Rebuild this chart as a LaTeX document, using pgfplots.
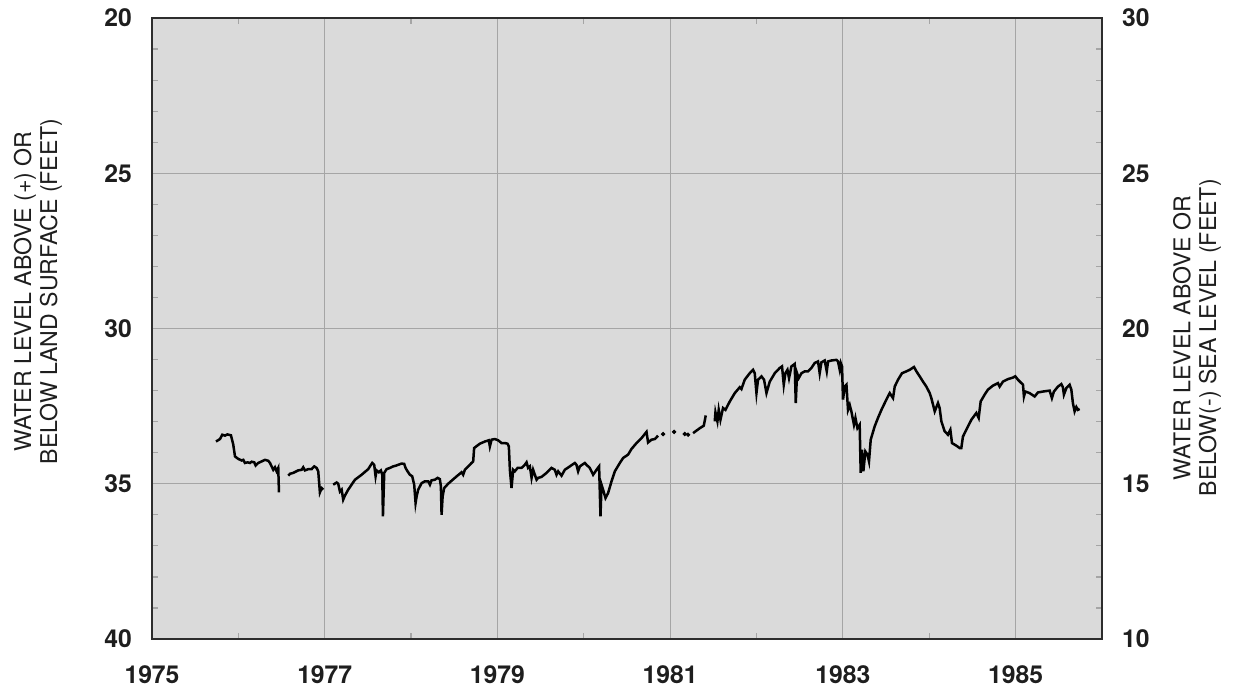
\documentclass[border=0pt]{standalone}
\usepackage{pgfplots}
\pgfplotsset{compat=1.18}
\usepackage{fontspec}
\setmainfont{TeX Gyre Heros}
\definecolor{bg}{RGB}{218,218,218}
\definecolor{gridc}{RGB}{165,165,165}
\definecolor{axc}{RGB}{45,45,45}
\definecolor{txt}{RGB}{30,30,30}
\begin{document}
\begin{tikzpicture}
\useasboundingbox (-76bp,-26.5bp) rectangle (547.5bp,319.5bp);
\begin{axis}[
  at={(0,0)}, anchor=south west,
  scale only axis, width=475bp, height=310.5bp,
  xmin=1975, xmax=1986, ymin=20, ymax=40, y dir=reverse,
  axis background/.style={fill=bg},
  axis line style={axc, line width=1.1bp},
  xtick={1975,1977,...,1985}, minor xtick={1976,1978,...,1986},
  xticklabels={1975,1977,1979,1981,1983,1985},
  ytick={20,25,...,40}, minor ytick={21,...,39},
  yticklabels={20,25,30,35,40},
  grid=major, major grid style={gridc, line width=0.5bp},
  tick align=inside, major tick length=0pt, minor tick length=3bp,
  minor tick style={gridc, line width=0.6bp},
  ticklabel style={font=\fontsize{12.4}{14}\selectfont\bfseries, text=txt},
  xticklabel style={yshift=-10bp},
  yticklabel style={xshift=-6.5bp},
  ylabel={WATER LEVEL ABOVE (+) OR\\BELOW LAND SURFACE (FEET)},
  ylabel style={align=center, font=\fontsize{11.6}{13}\selectfont, text=txt,
    at={(axis description cs:-0.12,0.56)}, anchor=center},
  clip=true,
]
\addplot[black, line width=1.25bp] coordinates {
(1975.741,33.64)(1975.787,33.56)(1975.814,33.42)(1975.845,33.45)(1975.872,33.41)
(1975.914,33.44)(1975.941,33.74)(1975.961,34.12)(1975.999,34.20)(1976.038,34.25)
(1976.057,34.23)(1976.076,34.33)(1976.108,34.31)(1976.134,34.33)(1976.154,34.29)
(1976.184,34.31)(1976.200,34.41)(1976.230,34.33)(1976.270,34.28)(1976.308,34.23)
(1976.346,34.26)(1976.366,34.33)(1976.385,34.44)(1976.404,34.55)(1976.424,34.47)
(1976.443,34.60)(1976.462,34.49)(1976.470,35.28)
};
\addplot[black, line width=1.25bp] coordinates {
(1976.578,34.74)(1976.597,34.68)(1976.635,34.65)(1976.693,34.57)(1976.733,34.55)
(1976.751,34.47)(1976.771,34.57)(1976.809,34.53)(1976.848,34.53)(1976.878,34.44)
(1976.906,34.49)(1976.925,34.60)(1976.944,35.28)(1976.964,35.14)(1976.983,35.19)
};
\addplot[black, line width=1.25bp] coordinates {
(1977.098,35.03)(1977.138,34.96)(1977.156,35.00)(1977.176,35.25)(1977.196,35.19)
(1977.214,35.51)(1977.234,35.38)(1977.272,35.19)(1977.311,35.03)(1977.350,34.87)
(1977.427,34.71)(1977.503,34.53)(1977.550,34.33)(1977.573,34.39)(1977.589,34.76)
(1977.601,34.57)(1977.627,34.63)(1977.650,34.57)(1977.666,34.71)(1977.674,36.05)
(1977.689,34.65)(1977.716,34.53)(1977.755,34.49)(1977.793,34.44)(1977.821,34.42)
(1977.851,34.39)(1977.890,34.35)(1977.920,34.36)(1977.936,34.49)(1977.959,34.60)
(1977.986,34.71)(1978.013,34.76)(1978.036,35.03)(1978.052,35.62)(1978.064,35.41)
(1978.082,35.19)(1978.122,34.98)(1978.160,34.92)(1978.198,34.92)(1978.218,35.03)
(1978.237,34.89)(1978.275,34.87)(1978.307,34.81)(1978.333,34.85)(1978.345,35.08)
(1978.353,36.00)(1978.365,35.41)(1978.383,35.14)(1978.429,35.00)(1978.507,34.81)
(1978.584,34.63)(1978.603,34.71)(1978.623,34.55)(1978.700,34.33)(1978.719,34.28)
(1978.730,33.85)(1978.796,33.71)(1978.854,33.64)(1978.900,33.60)(1978.912,33.80)
(1978.932,33.58)(1978.970,33.56)(1979.008,33.60)(1979.047,33.69)(1979.086,33.69)
(1979.117,33.71)(1979.132,33.80)(1979.144,34.55)(1979.163,35.14)(1979.182,34.55)
(1979.201,34.60)(1979.233,34.49)(1979.279,34.49)(1979.317,34.39)(1979.337,34.31)
(1979.355,34.49)(1979.375,34.44)(1979.395,34.81)(1979.413,34.55)(1979.453,34.87)
(1979.471,34.81)(1979.510,34.78)(1979.568,34.65)(1979.626,34.49)(1979.664,34.55)
(1979.684,34.71)(1979.703,34.60)(1979.742,34.74)(1979.780,34.55)(1979.838,34.44)
(1979.896,34.33)(1979.915,34.39)(1979.934,34.60)(1979.954,34.44)(1980.012,34.33)
(1980.031,34.39)(1980.069,34.49)(1980.108,34.71)(1980.147,34.55)(1980.177,34.44)
(1980.193,36.05)(1980.205,35.03)(1980.223,35.19)(1980.251,35.46)(1980.281,35.30)
(1980.321,34.92)(1980.359,34.60)(1980.417,34.33)(1980.455,34.17)(1980.513,34.06)
(1980.552,33.88)(1980.610,33.69)(1980.668,33.53)(1980.726,33.33)(1980.744,33.67)
(1980.784,33.58)(1980.822,33.56)(1980.860,33.45)
};
\addplot[black, only marks, mark=*, mark size=0.9bp] coordinates {
(1980.918,33.40)(1981.045,33.33)(1981.169,33.40)(1981.207,33.42)
};
\addplot[black, line width=1.25bp] coordinates {
(1981.265,33.37)(1981.343,33.21)(1981.389,33.13)(1981.412,32.80)
};
\addplot[black, line width=1.25bp] coordinates {
(1981.516,32.99)(1981.524,32.70)(1981.547,32.99)(1981.562,32.62)(1981.582,32.94)
(1981.612,32.56)(1981.640,32.62)(1981.690,32.35)(1981.748,32.08)(1981.806,31.89)
(1981.825,31.95)(1981.863,31.65)(1981.921,31.44)(1981.959,31.33)(1981.979,31.44)
(1981.999,32.08)(1982.017,31.65)(1982.057,31.54)(1982.087,31.65)(1982.115,32.08)
(1982.153,31.71)(1982.211,31.44)(1982.269,31.27)(1982.295,31.22)(1982.315,31.81)
(1982.334,31.44)(1982.358,31.33)(1982.376,31.60)(1982.404,31.22)(1982.442,31.14)
(1982.454,32.40)(1982.469,31.44)(1982.488,31.60)(1982.520,31.44)(1982.558,31.38)
(1982.596,31.38)(1982.635,31.27)(1982.674,31.11)(1982.712,31.06)(1982.731,31.44)
(1982.751,31.09)(1982.789,31.03)(1982.813,31.38)(1982.828,31.06)(1982.867,31.03)
(1982.925,31.01)(1982.943,31.06)(1982.963,31.33)(1982.975,31.11)(1982.990,31.22)
(1983.001,32.29)(1983.021,31.87)(1983.041,31.81)(1983.059,32.62)(1983.079,32.46)
(1983.098,32.67)(1983.128,33.10)(1983.145,32.88)(1983.168,33.21)(1983.194,33.10)
(1983.206,34.65)(1983.221,33.90)(1983.237,34.60)(1983.260,33.96)(1983.284,34.06)
(1983.302,34.28)(1983.322,33.58)(1983.368,33.15)(1983.406,32.88)(1983.446,32.62)
(1983.503,32.29)(1983.542,32.08)(1983.580,32.24)(1983.600,31.87)(1983.638,31.65)
(1983.684,31.44)(1983.735,31.38)(1983.773,31.33)(1983.823,31.24)(1983.851,31.38)
(1983.889,31.54)(1983.927,31.71)(1983.966,31.87)(1984.005,32.08)(1984.024,32.24)
(1984.063,32.67)(1984.101,32.40)(1984.120,32.56)(1984.140,32.99)(1984.178,33.31)
(1984.216,33.42)(1984.244,33.26)(1984.263,33.69)(1984.294,33.74)(1984.317,33.78)
(1984.352,33.85)(1984.371,33.85)(1984.390,33.48)(1984.429,33.26)(1984.487,32.94)
(1984.545,32.72)(1984.572,32.88)(1984.595,32.35)(1984.641,32.13)(1984.679,31.97)
(1984.737,31.84)(1984.795,31.76)(1984.815,31.87)(1984.853,31.71)(1984.911,31.63)
(1984.969,31.58)(1984.996,31.54)(1985.027,31.65)(1985.085,31.81)(1985.096,32.19)
(1985.112,32.03)(1985.162,32.08)(1985.220,32.19)(1985.258,32.06)(1985.316,32.03)
(1985.394,32.00)(1985.420,32.24)(1985.443,32.03)(1985.490,31.87)(1985.529,31.79)
(1985.547,31.89)(1985.559,32.13)(1985.587,31.92)(1985.625,31.81)(1985.645,31.97)
(1985.663,32.40)(1985.683,32.67)(1985.703,32.53)(1985.721,32.62)(1985.741,32.59)
};
\end{axis}
\begin{axis}[
  at={(0,0)}, anchor=south west,
  scale only axis, width=475bp, height=310.5bp,
  xmin=1975, xmax=1986, ymin=10, ymax=30,
  hide x axis,
  axis y line*=right,
  y axis line style={draw=none},
  ytick={10,15,...,30}, yticklabels={10,15,20,25,30},
  major tick length=0pt,
  ticklabel style={font=\fontsize{12.4}{14}\selectfont\bfseries, text=txt},
  yticklabel style={xshift=6.5bp},
  ylabel={WATER LEVEL ABOVE OR\\BELOW(-) SEA LEVEL (FEET)},
  ylabel style={align=center, font=\fontsize{11.6}{13}\selectfont, text=txt,
    at={(axis description cs:1.1,0.485)}, anchor=center, rotate=0},
]
\end{axis}
\end{tikzpicture}
\end{document}
